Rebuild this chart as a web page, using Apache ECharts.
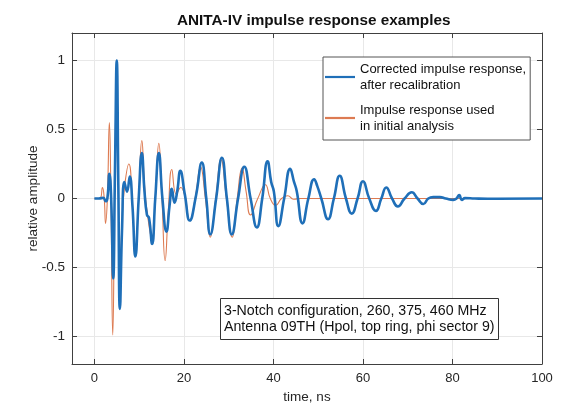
<!DOCTYPE html>
<html>
<head>
<meta charset="utf-8">
<script src="https://cdn.jsdelivr.net/npm/echarts@6/dist/echarts.min.js"></script>
<style>
  html, body { margin: 0; padding: 0; background: #fff; }
  #chart { width: 561px; height: 409px; }
</style>
</head>
<body>
<div id="chart"></div>
<script>
// ---- data ----
var blueName = 'Corrected impulse response,\nafter recalibration';
var orangeName = 'Impulse response used\nin initial analysis';

var blueT = [0,1,2,2.5,2.9,3.35,3.75,4.2,4.6,5.0,5.35,5.7,6.2,6.7,7.3,7.9,8.5,9.15,9.9,10.6,11.2,11.75,12.2,12.9,13.6,14.4,15.2,16.1,16.8,17.3,17.9,18.5,19.2,20.2,21.3,22.7,24.0,25.0,25.9,27.2,28.5,29.6,30.7,32.1,33.5,34.9,36.3,37.5,38.7,39.5,40.1,41.1,42.4,43.75,44.6,45.2,46.5,47.8,49.1,49.8,50.7,52.2,53.5,54.8,56.2,57.5,58.8,60.0,61.4,62.9,64.1,65.2,66.5,67.8,69.3,70.9,72.2,73.5,74.6,75.7,77.2,78.5,80.2,80.9,81.5,82.1,82.8,85,90,100];
var blueV = [0,0,0.005,-0.02,0,0.18,0,-0.58,0.2,1.0,0.1,-0.8,-0.2,0.12,0.05,0.16,-0.05,-0.42,0,0.33,0.05,-0.12,-0.14,-0.33,0,0.33,0,-0.24,-0.05,0.07,-0.03,0.05,0.2,0.03,-0.16,0.02,0.26,0,-0.26,0,0.295,0,-0.26,0,0.23,0,-0.21,0,0.27,0.12,0.05,-0.2,0,0.215,0.12,0.055,-0.18,0,0.14,0.09,0,-0.15,0,0.165,0,-0.11,0,0.125,0,-0.09,0,0.08,0,-0.058,0,0.045,0,-0.04,0,0.01,0.01,0,-0.01,0,0.025,-0.01,0.003,0,-0.002,0];

var orangeT = [0,1.2,1.8,2.2,2.5,2.9,3.35,3.7,4.1,4.55,5.0,5.35,5.7,6.2,6.8,7.7,8.5,9.15,9.9,10.6,11.2,11.8,12.9,13.6,14.4,15.1,15.8,16.5,17.3,18.3,19.3,20.2,21.3,22.6,23.7,24.8,25.9,27.1,28.3,29.5,30.8,31.9,33.0,33.9,34.9,36.5,38.2,39.3,40.5,41.8,43.2,44.5,46,100];
var orangeV = [0,0,0.08,0,-0.18,0,0.55,0,-0.99,0.1,0.95,0.1,-0.65,-0.15,0.1,0.25,-0.05,-0.42,0,0.42,0.1,-0.1,-0.3,0,0.40,0,-0.45,-0.1,0.21,0.03,0.08,0.02,-0.16,0.02,0.23,0,-0.28,0,0.28,0,-0.28,0,0.22,0.05,-0.12,0,0.1,0,-0.05,0,0.02,-0.005,0,0];

var xTicks = [0,20,40,60,80,100];
var yTicks = [-1,-0.5,0,0.5,1];

var titleText = 'ANITA-IV impulse response examples';
var noteText = '3-Notch configuration, 260, 375, 460 MHz\nAntenna 09TH (Hpol, top ring, phi sector 9)';

function zip(t, v) { return t.map(function (x, i) { return [x, v[i]]; }); }

var FONT = 'Liberation Sans, Arial, sans-serif';
var axisColor = '#404040';
var textColor = '#262626';
var gridColor = '#e8e8e8';
var blueColor = '#1f6fb8';
var orangeColor = '#dd7b52';

function xAx(pos, main) {
  return {
    type: 'value', position: pos, min: -5, max: 100,
    axisLine: { show: true, onZero: false, lineStyle: { color: axisColor, width: 1 } },
    axisTick: { show: true, inside: true, length: 5, customValues: xTicks, lineStyle: { color: axisColor } },
    axisLabel: main ? { show: true, customValues: xTicks, fontSize: 13, color: textColor, margin: 8, fontFamily: FONT } : { show: false },
    splitLine: main ? { show: true, lineStyle: { color: gridColor, width: 1 } } : { show: false },
    name: main ? 'time, ns' : '',
    nameLocation: 'middle', nameGap: 26,
    nameTextStyle: { fontSize: 13.5, color: textColor, fontFamily: FONT }
  };
}
function yAx(pos, main) {
  return {
    type: 'value', position: pos, min: -1.2, max: 1.2,
    axisLine: { show: true, onZero: false, lineStyle: { color: axisColor, width: 1 } },
    axisTick: { show: true, inside: true, length: 5, customValues: yTicks, lineStyle: { color: axisColor } },
    axisLabel: main ? { show: true, customValues: yTicks, fontSize: 13.5, color: textColor, margin: 7, fontFamily: FONT } : { show: false },
    splitLine: main ? { show: true, lineStyle: { color: gridColor, width: 1 } } : { show: false },
    name: main ? 'relative amplitude' : '',
    nameLocation: 'middle', nameGap: 32, nameRotate: 90, nameMoveOverlap: false,
    nameTextStyle: { fontSize: 13.5, color: textColor, fontFamily: FONT }
  };
}

var chart = echarts.init(document.getElementById('chart'), null, { renderer: 'canvas' });
chart.setOption({
  animation: false,
  backgroundColor: '#ffffff',
  textStyle: { fontFamily: FONT },
  title: [
    { text: titleText, left: 177, top: 13, padding: 0,
      textStyle: { fontSize: 15.3, fontWeight: 'bold', color: '#111', fontFamily: FONT } },
    { text: noteText, left: 220, top: 298, padding: [5, 4, 5, 4],
      borderWidth: 1, borderColor: '#333', backgroundColor: '#fff', z: 10,
      textStyle: { fontSize: 14.2, fontWeight: 'normal', color: '#111', lineHeight: 16, fontFamily: FONT } }
  ],
  legend: {
    data: [
      { name: blueName, icon: 'rect', itemStyle: { color: blueColor } },
      { name: orangeName, icon: 'rect', itemStyle: { color: orangeColor } }
    ],
    orient: 'vertical', left: 323, top: 57,
    padding: [4, 4, 6, 2], itemGap: 9, itemWidth: 30, itemHeight: 2.2,
    borderWidth: 1, borderColor: '#555', backgroundColor: '#fff', z: 10,
    textStyle: { fontSize: 13, color: '#111', lineHeight: 16, fontFamily: FONT }
  },
  grid: { left: 72, right: 19, top: 33, bottom: 43, containLabel: false },
  xAxis: [xAx('bottom', true), xAx('top', false)],
  yAxis: [yAx('left', true), yAx('right', false)],
  series: [
    { name: orangeName, type: 'line', xAxisIndex: 0, yAxisIndex: 0, z: 2,
      data: zip(orangeT, orangeV), smooth: 0.5, symbol: 'none', showSymbol: false,
      lineStyle: { color: orangeColor, width: 1.1 }, itemStyle: { color: orangeColor } },
    { name: blueName, type: 'line', xAxisIndex: 0, yAxisIndex: 0, z: 3,
      data: zip(blueT, blueV), smooth: 0.5, symbol: 'none', showSymbol: false,
      lineStyle: { color: blueColor, width: 2.6 }, itemStyle: { color: blueColor } }
  ]
});
</script>
</body>
</html>
